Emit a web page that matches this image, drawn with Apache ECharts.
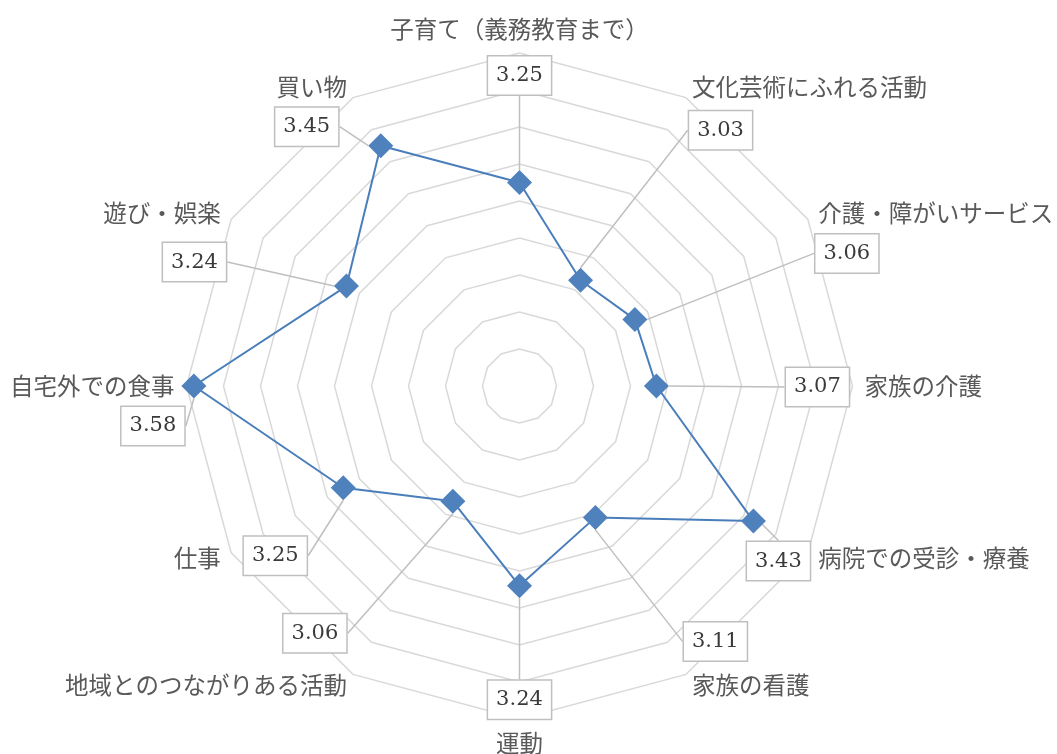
<!DOCTYPE html>
<html>
<head>
<meta charset="utf-8">
<script src="https://cdn.jsdelivr.net/npm/echarts@6/dist/echarts.min.js"></script>
<style>
  html, body { margin: 0; padding: 0; background: #fff; }
  #chart { width: 1057px; height: 754px; }
</style>
</head>
<body>
<div id="chart"></div>
<script>
// 項目（時計回り、上から）
var categories = [
    '子育て（義務教育まで）',
    '文化芸術にふれる活動',
    '介護・障がいサービス',
    '家族の介護',
    '病院での受診・療養',
    '家族の看護',
    '運動',
    '地域とのつながりある活動',
    '仕事',
    '自宅外での食事',
    '遊び・娯楽',
    '買い物'
];
var values = [3.25, 3.03, 3.06, 3.07, 3.43, 3.11, 3.24, 3.06, 3.25, 3.58, 3.24, 3.45];

// 軸の範囲
var axisMin = 2.7, axisMax = 3.6, splitCount = 9;

// ラベル位置のずらし（マーカーからの距離）
var labelDx = [0, 140, 212, 161, 25, 120, 0, -138, -68, -41, -152, -74];
var labelDy = [-107, -150, -66, 1, 40, 124, 114, 132, 68, 40, -24, -19];

var myEcharts = echarts.init(document.getElementById('chart'));

// echartsのレーダーは反時計回りなので、先頭以外を逆順に並べる
var order = [0];
for (var k = categories.length - 1; k > 0; k--) order.push(k);
var indicators = order.map(function (i) {
    return { name: categories[i], min: axisMin, max: axisMax };
});
var radarValues = order.map(function (i) { return values[i]; });
var points = values.map(function (v, i) { return [v, i]; });

var option = {
    animation: false,
    radar: {
        center: [519.5, 386],
        radius: 333,
        startAngle: 90,
        shape: 'polygon',
        splitNumber: splitCount,
        indicator: indicators,
        nameGap: 12,
        axisName: {
            color: '#595959',
            fontSize: 23.5,
            fontFamily: 'Noto Sans CJK JP'
        },
        axisLine: { show: false },
        axisTick: { show: false },
        axisLabel: { show: false },
        splitArea: { show: false },
        splitLine: { lineStyle: { color: '#d9d9d9', width: 1.5 } }
    },
    // ラベル用の見えない極座標（レーダーと同じ位置）
    polar: { center: [519.5, 386], radius: 333 },
    angleAxis: {
        type: 'value', min: 0, max: categories.length,
        startAngle: 90, clockwise: true, show: false
    },
    radiusAxis: { type: 'value', min: axisMin, max: axisMax, show: false },
    series: [
        {
            type: 'radar',
            symbol: 'none',
            lineStyle: { color: '#4a7ebb', width: 2 },
            data: [{ value: radarValues }],
            z: 2
        },
        {
            type: 'scatter',
            coordinateSystem: 'polar',
            symbol: 'diamond',
            symbolSize: 25,
            itemStyle: { color: '#4f81bd', opacity: 1 },
            data: points,
            z: 3,
            label: {
                show: true,
                position: 'inside',
                formatter: function (p) { return p.value[0].toFixed(2); },
                fontFamily: 'DejaVu Serif',
                fontSize: 21,
                color: '#3a3a3a',
                backgroundColor: '#fff',
                borderColor: '#bfbfbf',
                borderWidth: 1.5,
                padding: [9, 8, 8, 8]
            },
            labelLine: {
                show: true,
                lineStyle: { color: '#bfbfbf', width: 1.5 }
            },
            labelLayout: function (p) {
                return { dx: labelDx[p.dataIndex], dy: labelDy[p.dataIndex] };
            }
        }
    ]
};
myEcharts.setOption(option);
</script>
</body>
</html>
